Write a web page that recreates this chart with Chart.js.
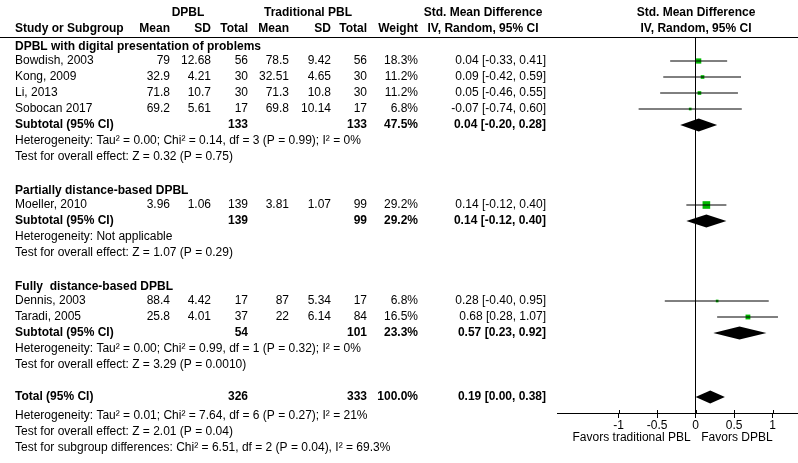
<!DOCTYPE html>
<html>
<head>
<meta charset="utf-8">
<script src="https://cdn.jsdelivr.net/npm/chart.js@4"></script>
<style>
  body { margin: 0; background: #fff; }
  canvas { display: block; }
</style>
</head>
<body>
<canvas id="forest" width="798" height="463"></canvas>
<script>
// study level data
const studyNames = ['Bowdish, 2003', 'Kong, 2009', 'Li, 2013', 'Sobocan 2017', 'Moeller, 2010', 'Dennis, 2003', 'Taradi, 2005'];
const studyGroup = [0, 0, 0, 0, 1, 2, 2];
const dpblMean = [79, 32.9, 71.8, 69.2, 3.96, 88.4, 25.8];
const dpblSD = [12.68, 4.21, 10.7, 5.61, 1.06, 4.42, 4.01];
const dpblN = [56, 30, 30, 17, 139, 17, 37];
const tradMean = [78.5, 32.51, 71.3, 69.8, 3.81, 87, 22];
const tradSD = [9.42, 4.65, 10.8, 10.14, 1.07, 5.34, 6.14];
const tradN = [56, 30, 30, 17, 99, 17, 84];
const studyWeight = [18.3, 11.2, 11.2, 6.8, 29.2, 6.8, 16.5];
const studySmd = [0.04, 0.09, 0.05, -0.07, 0.14, 0.28, 0.68];
const studyLow = [-0.33, -0.42, -0.46, -0.74, -0.12, -0.40, 0.28];
const studyHigh = [0.41, 0.59, 0.55, 0.60, 0.40, 0.95, 1.07];

// subgroups
const groupNames = ['DPBL with digital presentation of problems', 'Partially distance-based DPBL', 'Fully  distance-based DPBL'];
const groupN1 = [133, 139, 54];
const groupN2 = [133, 99, 101];
const groupWeight = [47.5, 29.2, 23.3];
const groupSmd = [0.04, 0.14, 0.57];
const groupLow = [-0.20, -0.12, 0.23];
const groupHigh = [0.28, 0.40, 0.92];
const groupHet = [
    'Heterogeneity: Tau\u00b2 = 0.00; Chi\u00b2 = 0.14, df = 3 (P = 0.99); I\u00b2 = 0%',
    'Heterogeneity: Not applicable',
    'Heterogeneity: Tau\u00b2 = 0.00; Chi\u00b2 = 0.99, df = 1 (P = 0.32); I\u00b2 = 0%'
];
const groupTest = [
    'Test for overall effect: Z = 0.32 (P = 0.75)',
    'Test for overall effect: Z = 1.07 (P = 0.29)',
    'Test for overall effect: Z = 3.29 (P = 0.0010)'
];

// overall
const totalN1 = 326;
const totalN2 = 333;
const totalWeight = 100.0;
const totalSmd = 0.19;
const totalLow = 0.00;
const totalHigh = 0.38;
const totalNotes = [
    'Heterogeneity: Tau\u00b2 = 0.01; Chi\u00b2 = 7.64, df = 6 (P = 0.27); I\u00b2 = 21%',
    'Test for overall effect: Z = 2.01 (P = 0.04)',
    'Test for subgroup differences: Chi\u00b2 = 6.51, df = 2 (P = 0.04), I\u00b2 = 69.3%'
];

const xTicks = [-1, -0.5, 0, 0.5, 1];
const favorsLeft = 'Favors traditional PBL';
const favorsRight = 'Favors DPBL';

// build row layout (one row = 16px)
const rows = [];
let r = -1;
const studyRow = [];
groupNames.forEach((g, gi) => {
    rows.push({ type: 'group', row: r++, g: gi });
    studyNames.forEach((s, i) => {
        if (studyGroup[i] === gi) {
            studyRow[i] = r;
            rows.push({ type: 'study', row: r++, i: i });
        }
    });
    rows.push({ type: 'subtotal', row: r++, g: gi });
    rows.push({ type: 'note', row: r++, text: groupHet[gi] });
    rows.push({ type: 'note', row: r++, text: groupTest[gi] });
    r++;
});
rows.push({ type: 'total', row: r++ });
totalNotes.forEach(t => rows.push({ type: 'note', row: r++, text: t, shift: 3 }));

const FONT = '"Liberation Sans", Arial, sans-serif';
const GREEN = 'rgb(0,185,0)';
const cols = { name: 15, m1: 170, sd1: 211, n1: 248, m2: 289, sd2: 331, n2: 367, w: 418, ci: 546 };

const f2 = v => v.toFixed(2);
const ciText = (e, lo, hi) => `${f2(e)} [${f2(lo)}, ${f2(hi)}]`;

const datasets = [];
studyNames.forEach((s, i) => {
    datasets.push({
        type: 'line',
        data: [{ x: studyLow[i], y: studyRow[i] }, { x: studyHigh[i], y: studyRow[i] }],
        borderColor: '#000',
        borderWidth: 1,
        pointRadius: 0,
        showLine: true
    });
});
datasets.push({
    type: 'scatter',
    data: studySmd.map((v, i) => ({ x: v, y: studyRow[i] })),
    pointStyle: 'rect',
    pointRadius: studyWeight.map(w => (0.22 * w + 1.2) / 1.414),
    backgroundColor: GREEN,
    borderColor: GREEN,
    borderWidth: 0
});

const tablePlugin = {
    id: 'tablePlugin',
    afterDraw(chart) {
        const ctx = chart.ctx;
        const xs = chart.scales.x;
        const ys = chart.scales.y;
        const yp = v => ys.getPixelForValue(v);
        const text = (t, x, y, align, bold) => {
            ctx.font = (bold ? 'bold ' : '') + '12px ' + FONT;
            ctx.fillStyle = '#000';
            ctx.textAlign = align;
            ctx.textBaseline = 'middle';
            ctx.fillText(t, x, y);
        };
        ctx.save();

        // header
        const h1 = yp(-3), h2 = yp(-2);
        text('DPBL', 188, h1, 'center', true);
        text('Traditional PBL', 308, h1, 'center', true);
        text('Std. Mean Difference', 483, h1, 'center', true);
        text('Std. Mean Difference', 696, h1, 'center', true);
        text('Study or Subgroup', cols.name, h2, 'left', true);
        text('Mean', cols.m1, h2, 'right', true);
        text('SD', cols.sd1, h2, 'right', true);
        text('Total', cols.n1, h2, 'right', true);
        text('Mean', cols.m2, h2, 'right', true);
        text('SD', cols.sd2, h2, 'right', true);
        text('Total', cols.n2, h2, 'right', true);
        text('Weight', cols.w, h2, 'right', true);
        text('IV, Random, 95% CI', 483, h2, 'center', true);
        text('IV, Random, 95% CI', 696, h2, 'center', true);

        ctx.strokeStyle = '#000';
        ctx.lineWidth = 1;
        ctx.beginPath();
        ctx.moveTo(0, chart.chartArea.top + 0.5);
        ctx.lineTo(chart.width, chart.chartArea.top + 0.5);
        ctx.stroke();

        const diamond = (e, lo, hi, row) => {
            const y = yp(row);
            ctx.fillStyle = '#000';
            ctx.beginPath();
            ctx.moveTo(xs.getPixelForValue(lo), y);
            ctx.lineTo(xs.getPixelForValue(e), y - 6.5);
            ctx.lineTo(xs.getPixelForValue(hi), y);
            ctx.lineTo(xs.getPixelForValue(e), y + 6.5);
            ctx.closePath();
            ctx.fill();
        };

        rows.forEach(rw => {
            const y = yp(rw.row);
            if (rw.type === 'group') {
                text(groupNames[rw.g], cols.name, y + 2, 'left', true);
            } else if (rw.type === 'study') {
                const i = rw.i;
                text(studyNames[i], cols.name, y, 'left', false);
                text(String(dpblMean[i]), cols.m1, y, 'right', false);
                text(String(dpblSD[i]), cols.sd1, y, 'right', false);
                text(String(dpblN[i]), cols.n1, y, 'right', false);
                text(String(tradMean[i]), cols.m2, y, 'right', false);
                text(String(tradSD[i]), cols.sd2, y, 'right', false);
                text(String(tradN[i]), cols.n2, y, 'right', false);
                text(studyWeight[i].toFixed(1) + '%', cols.w, y, 'right', false);
                text(ciText(studySmd[i], studyLow[i], studyHigh[i]), cols.ci, y, 'right', false);
            } else if (rw.type === 'subtotal') {
                const g = rw.g;
                text('Subtotal (95% CI)', cols.name, y, 'left', true);
                text(String(groupN1[g]), cols.n1, y, 'right', true);
                text(String(groupN2[g]), cols.n2, y, 'right', true);
                text(groupWeight[g].toFixed(1) + '%', cols.w, y, 'right', true);
                text(ciText(groupSmd[g], groupLow[g], groupHigh[g]), cols.ci, y, 'right', true);
                diamond(groupSmd[g], groupLow[g], groupHigh[g], rw.row);
            } else if (rw.type === 'note') {
                text(rw.text, cols.name, y + (rw.shift || 0), 'left', false);
            } else if (rw.type === 'total') {
                text('Total (95% CI)', cols.name, y, 'left', true);
                text(String(totalN1), cols.n1, y, 'right', true);
                text(String(totalN2), cols.n2, y, 'right', true);
                text(totalWeight.toFixed(1) + '%', cols.w, y, 'right', true);
                text(ciText(totalSmd, totalLow, totalHigh), cols.ci, y, 'right', true);
                diamond(totalSmd, totalLow, totalHigh, rw.row);
            }
        });

        // favours labels
        const fy = chart.chartArea.bottom + 25;
        text(favorsLeft, xs.getPixelForValue(0) - 5, fy, 'right', false);
        text(favorsRight, xs.getPixelForValue(1), fy, 'right', false);

        // small tick stubs above axis
        ctx.strokeStyle = '#000';
        ctx.beginPath();
        xTicks.forEach(v => {
            const px = Math.round(xs.getPixelForValue(v)) + 0.5;
            ctx.moveTo(px, chart.chartArea.bottom - 3);
            ctx.lineTo(px, chart.chartArea.bottom);
        });
        ctx.stroke();
        ctx.restore();
    }
};

new Chart(document.getElementById('forest'), {
    type: 'scatter',
    data: { datasets: datasets },
    options: {
        responsive: false,
        animation: false,
        devicePixelRatio: 1,
        layout: { autoPadding: false, padding: { left: 557, right: -5, top: 37, bottom: 30 } },
        plugins: { legend: { display: false }, tooltip: { enabled: false } },
        scales: {
            x: {
                type: 'linear',
                min: -1.8,
                max: 1.33,
                afterBuildTicks: s => { s.ticks = xTicks.map(v => ({ value: v })); },
                afterFit: s => { s.height = 20; s.paddingLeft = 0; s.paddingRight = 0; },
                ticks: {
                    color: '#000',
                    padding: 0,
                    font: { family: FONT, size: 12 },
                    callback: v => String(v)
                },
                grid: {
                    color: c => (c.tick && c.tick.value === 0) ? '#000' : 'rgba(0,0,0,0)',
                    tickColor: '#000',
                    tickLength: 5,
                    lineWidth: 1
                },
                border: { display: true, color: '#000', width: 1 }
            },
            y: {
                type: 'linear',
                display: false,
                reverse: true,
                min: -1.5,
                max: 22
            }
        }
    },
    plugins: [tablePlugin]
});
</script>
</body>
</html>
